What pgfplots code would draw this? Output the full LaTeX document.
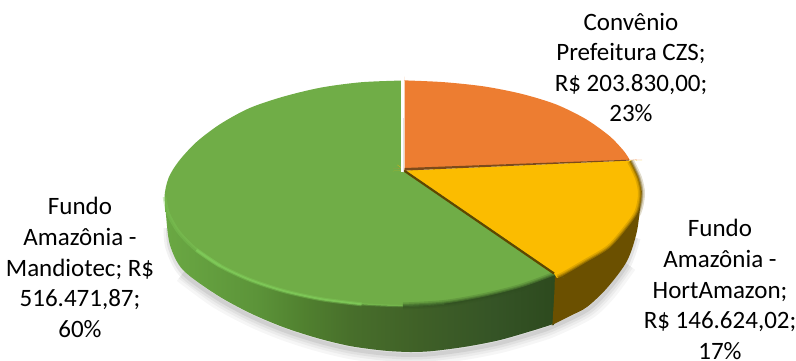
\documentclass[border=0pt]{standalone}
\usepackage{pgfplots}
\usepackage{pgfplotstable}
\usepackage{fontspec}
\setmainfont{Carlito}
\pgfplotsset{compat=1.18}

\definecolor{topgreen}{HTML}{70AD47}
\definecolor{toporange}{HTML}{ED7D31}
\definecolor{topyellow}{HTML}{FBBC00}
\definecolor{sideyellow}{HTML}{6B5000}
\definecolor{sidegreen}{HTML}{2F4E20}
\definecolor{rimgreen}{HTML}{80CC5A}
\definecolor{edgebrown}{HTML}{5E4700}
\definecolor{edgeorange}{HTML}{7C4A1A}

\tikzset{labeltext/.style={font=\fontsize{25}{30.6}\selectfont, align=center, text=black, inner sep=0pt}}

% Side wall of the large slice, lit from the left; inner 25-75bp spans the wall
\pgfdeclarehorizontalshading{greenwall}{100bp}{
  rgb(0bp)=(.416,.659,.263);
  rgb(25bp)=(.416,.659,.263);
  rgb(36bp)=(.361,.58,.224);
  rgb(42bp)=(.314,.502,.184);
  rgb(47.5bp)=(.282,.435,.169);
  rgb(56bp)=(.247,.376,.153);
  rgb(65bp)=(.208,.329,.149);
  rgb(75bp)=(.165,.275,.106);
  rgb(100bp)=(.165,.275,.106)}

% Lower outline of the disc wall, whole and without its steep ends
\pgfplotstableread{
x y
168 225
170 245
183 270
217 295
250 313
283 327
317 338
350 346
383 350.5
410 352
433 351
467 346.5
500 340
533 330.5
552 324
587 307
607 288
627 261
636 235
}\outerwall
\pgfplotstableread{
x y
183 270
217 295
250 313
283 327
317 338
350 346
383 350.5
410 352
433 351
467 346.5
500 340
533 330.5
552 324
587 307
607 288
627 261
}\outermid

% Rim of the top face: left end, lit part, fading part and shaded part of the large slice
\pgfplotstableread{
x y
164.5 197
168.1 213.4
178.9 232.3
196.5 250
220.3 266
}\rimleft
\pgfplotstableread{
x y
196.5 250
220.3 266
249.7 279.8
283.8 291
321.4 299.2
361.6 304.3
}\rimlit
\pgfplotstableread{
x y
361.6 304.3
403 306
444.4 303.5
}\rimfade
\pgfplotstableread{
x y
403 306
444.4 303.5
484.6 296.5
522.2 287
555 275
}\rimdark

% Rim of the small slice
\pgfplotstableread{
x y
558 278
566 274
585.7 262.5
609.5 248
627.1 228
638 212
641.5 194
638.5 178
630.5 161
}\rimyellow

\begin{document}
\begin{tikzpicture}[x=1pt,y=1pt]
\path[use as bounding box] (0,0) rectangle (796,360);
\begin{axis}[
  at={(0,0)}, anchor=south west,
  scale only axis, width=796pt, height=360pt,
  xmin=0, xmax=796, ymin=0, ymax=360, y dir=reverse,
  hide axis, clip=false
]
% soft shadow under the disc
\addplot[smooth, black, opacity=0.035, line width=20pt, forget plot] table[y expr=\thisrow{y}+3] {\outermid};
\addplot[smooth, black, opacity=0.04, line width=14pt, forget plot] table[y expr=\thisrow{y}+3] {\outermid};
\addplot[smooth, black, opacity=0.05, line width=9pt, forget plot] table[y expr=\thisrow{y}+3] {\outerwall};
\addplot[smooth, black, opacity=0.07, line width=4pt, forget plot] table[y expr=\thisrow{y}+3] {\outerwall};

% wall of the large slice
\addplot[smooth, draw=none, shading=greenwall, forget plot] coordinates {
 (165,195) (166,215) (170,245) (183,270) (217,295) (250,313) (283,327) (317,338)
 (350,346) (383,350.5) (410,352) (433,351) (467,346.5) (500,340) (533,330.5)
 (552,324.5) (554,324) (556,300) (556,272) (555,265) (400,250) (200,220) (165,195)};

% wall of the small slice
\addplot[smooth, draw=none, fill=sideyellow, forget plot] coordinates {
 (552,325) (553,324.6) (570,316) (587,307) (607,288) (627,261) (637,231) (641,197)
 (641,190) (630,190) (600,230) (556,270) (555,272) (554.5,290) (552.5,323) (552,325)};

% top face: large slice
\addplot[smooth, draw=none, fill=topgreen, forget plot] coordinates {
 (403,80.5) (361.6,82.2) (321.4,87.5) (283.8,96.5) (249.7,108) (220.3,124) (196.5,142)
 (178.9,161) (168.5,178) (164.5,197) (168.1,213.4) (178.9,232.3) (196.5,250) (220.3,266)
 (249.7,279.8) (283.8,291) (321.4,299.2) (361.6,304.3) (403,306) (444.4,303.5)
 (484.6,296.5) (522.2,287) (555,275) (556,273) (554,271)
 (406,171) (404,170) (403,169) (403,100) (403,81) (403,80.5)};

% light and shade along the rim of the large slice
\addplot[smooth, rimgreen, opacity=0.35, line width=3.6pt, forget plot] table {\rimleft};
\addplot[smooth, rimgreen, opacity=0.4, line width=4pt, forget plot] table {\rimlit};
\addplot[smooth, rimgreen, opacity=0.8, line width=1.8pt, forget plot] table {\rimlit};
\addplot[smooth, rimgreen, opacity=0.3, line width=2.4pt, forget plot] table {\rimfade};
\addplot[smooth, sidegreen, opacity=0.2, line width=7pt, forget plot] table {\rimdark};
\addplot[smooth, sidegreen, opacity=0.3, line width=4pt, forget plot] table {\rimdark};
\addplot[smooth, sidegreen, opacity=0.4, line width=2pt, forget plot] table {\rimdark};

% top face: small slice
\addplot[smooth, draw=none, fill=topyellow, forget plot] coordinates {
 (405,170.5) (407,170.4) (628,160.6) (630,160.6) (630.5,161) (638.5,178) (641.5,194)
 (638,212) (627.1,228) (609.5,248) (585.7,262.5) (566,274) (558,278) (556,276.5)
 (553,272) (551.5,270.5) (406.5,171) (405,170.5)};
\addplot[smooth, sideyellow, opacity=0.2, line width=7pt, forget plot] table {\rimyellow};
\addplot[smooth, sideyellow, opacity=0.3, line width=4pt, forget plot] table {\rimyellow};
\addplot[smooth, sideyellow, opacity=0.45, line width=2pt, forget plot] table {\rimyellow};

% dark edge between the small slice and the large one
\addplot[edgebrown, line width=2.2pt, forget plot] coordinates {(404,170.5) (554,273.5)};

% top face: third slice
\addplot[smooth, draw=none, fill=toporange, forget plot] coordinates {
 (404.5,168.5) (404.5,167) (404.5,82) (404.5,80.5) (406,80.4) (444.4,82.2) (484.6,86.5)
 (522.2,94) (556.3,104.5) (585.7,119) (609.5,136) (623,150) (628,157) (629.5,159.8)
 (628,160) (408,168.4) (404.5,168.5)};
\addplot[draw=none, fill=edgeorange, forget plot] coordinates {
 (404.5,168) (629,159.7) (629,160.6) (404.5,170.6) (404.5,168)};

% white gap at the start of the first slice
\addplot[white, line width=3.4pt, forget plot] coordinates {(402.7,78) (402.7,171.5)};
\addplot[gray!22, line width=1.6pt, forget plot] coordinates {(403.4,118) (403.4,171.5)};

\node[labeltext] at (axis cs:631,67.5) {Convênio\\Prefeitura CZS;\\R\$ 203.830,00;\\23\%};
\node[labeltext] at (axis cs:80,267.5) {Fundo\\Amazônia -\\Mandiotec; R\$\\516.471,87;\\60\%};
\node[labeltext] at (axis cs:720,289.5) {Fundo\\Amazônia -\\HortAmazon;\\R\$ 146.624,02;\\17\%};
\end{axis}
\end{tikzpicture}
\end{document}
